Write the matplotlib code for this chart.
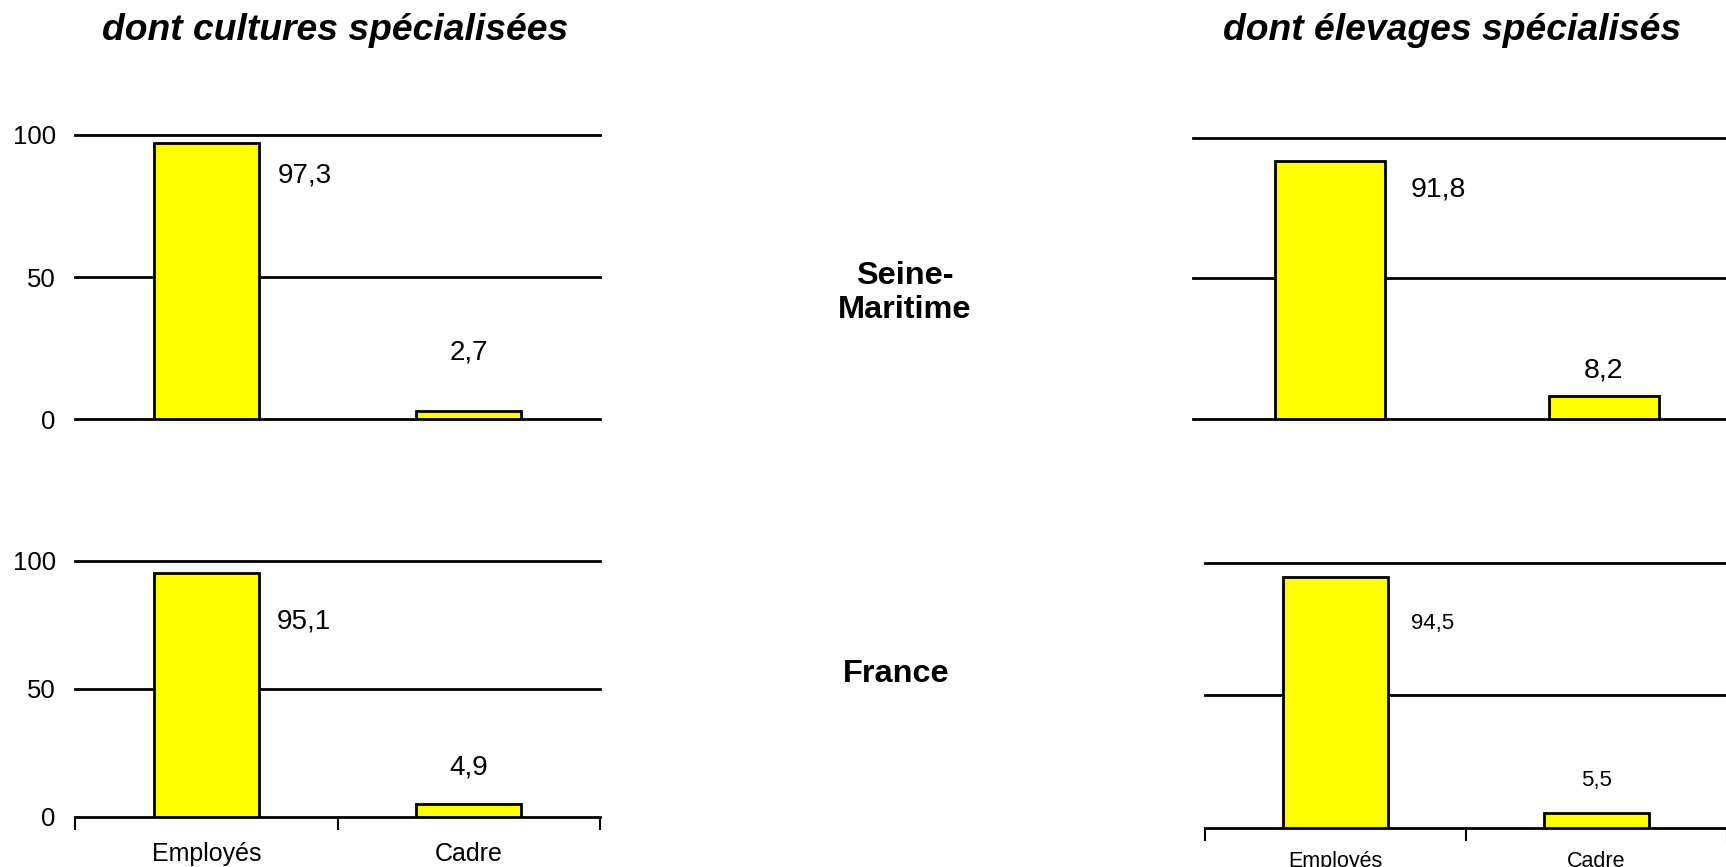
import matplotlib
matplotlib.use("Agg")

import matplotlib.pyplot as plt

plt.rcParams["font.family"] = ["Liberation Sans", "DejaVu Sans"]

# Data
categories = ["Employés", "Cadre"]
titles = ["dont cultures spécialisées", "dont élevages spécialisés"]
regions = ["Seine-\nMaritime", "France"]

seine_cultures = [97.3, 2.7]
seine_elevages = [91.8, 8.2]
france_cultures = [95.1, 4.9]
france_elevages = [94.5, 5.5]

yticks = [0, 50, 100]

fig = plt.figure(figsize=(17.26, 8.67), dpi=100)

# axes rectangles (figure fraction) and per-panel label offsets in pixels
panels = [
    # values, rect, show y labels, show x labels, offsets (dx1, dy1, dy2), fontsize
    (seine_cultures, [0.0435, 0.5167, 0.3042, 0.3276], True, False, (98, -33, 59), 20),
    (france_cultures, [0.0435, 0.0577, 0.3042, 0.2953], True, True, (98, -48, 37), 20),
    (seine_elevages, [0.6910, 0.5163, 0.3177, 0.3250], False, False, (109, -29, 26), 20.5),
    (france_elevages, [0.6982, 0.0452, 0.3024, 0.3060], False, True, (97, -46, 33), 16),
]

for values, rect, ylab, xlab, offs, fs in panels:
    ax = fig.add_axes(rect)
    ax.set_xlim(-0.5, 1.5)
    ax.set_ylim(0, 100)

    for y in yticks:
        ax.axhline(y, color="black", lw=2, clip_on=False, zorder=1)

    x = list(range(len(categories)))
    ax.bar(x, values, width=0.4, color="#ffff00", edgecolor="black",
           linewidth=2, zorder=2)

    # value labels
    dx1, dy1, dy2 = offs
    ax.annotate(f"{values[0]:.1f}".replace(".", ","), (x[0], values[0]),
                xytext=(dx1, dy1), textcoords="offset pixels",
                ha="center", va="center", fontsize=fs)
    ax.annotate(f"{values[1]:.1f}".replace(".", ","), (x[1], values[1]),
                xytext=(0, dy2), textcoords="offset pixels",
                ha="center", va="center", fontsize=fs)

    for s in ax.spines.values():
        s.set_visible(False)

    ax.set_yticks(yticks)
    if ylab:
        ax.set_yticklabels([str(t) for t in yticks], fontsize=18.5)
        ax.tick_params(axis="y", length=0, pad=14)
    else:
        ax.tick_params(axis="y", length=0, labelleft=False)

    if xlab:
        ax.set_xticks(x)
        ax.set_xticklabels(categories, fontsize=18 if ylab else 15.5)
        ax.tick_params(axis="x", which="major", length=0, pad=18 if ylab else 17)
        ax.set_xticks([-0.5, 0.5, 1.5], minor=True)
        ax.tick_params(axis="x", which="minor", length=9, width=1.5,
                       direction="out", color="black")
    else:
        ax.set_xticks([])

fig.text(0.194, 0.965, titles[0], fontsize=26.8, fontweight="bold",
         fontstyle="italic", ha="center", va="center")
fig.text(0.841, 0.965, titles[1], fontsize=26.8, fontweight="bold",
         fontstyle="italic", ha="center", va="center")

fig.text(0.524, 0.662, regions[0], fontsize=23.4, fontweight="bold",
         ha="center", va="center", linespacing=1.2)
fig.text(0.519, 0.223, regions[1], fontsize=23.4, fontweight="bold",
         ha="center", va="center")

fig.savefig("out.png", dpi=100)
